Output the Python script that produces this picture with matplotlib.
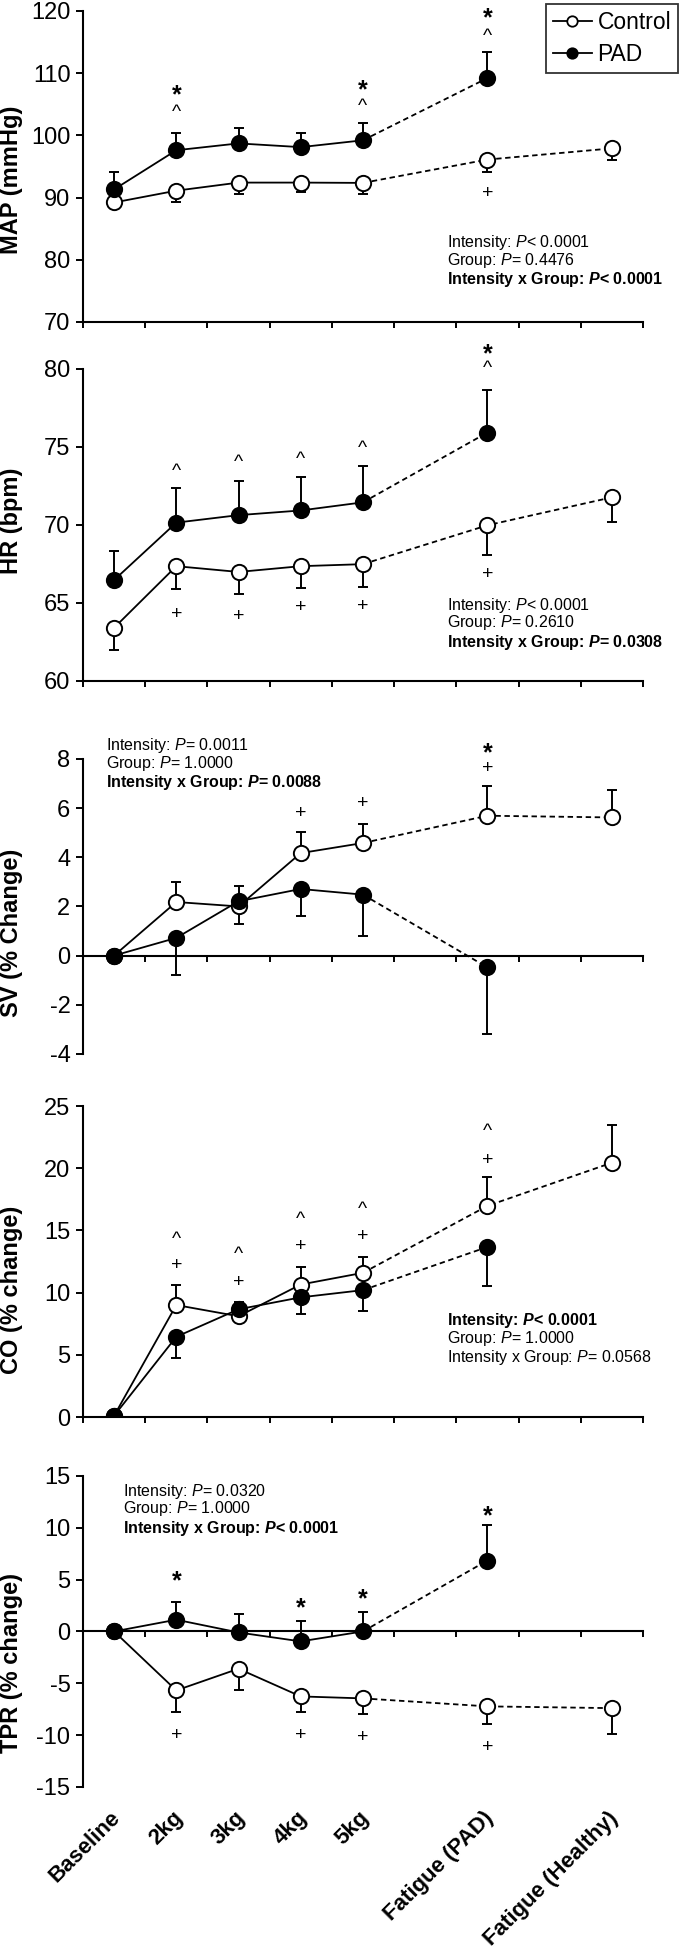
import matplotlib.pyplot as plt
import numpy as np
from matplotlib.lines import Line2D

plt.rcParams['font.family'] = ['Liberation Sans', 'DejaVu Sans']
plt.rcParams['axes.unicode_minus'] = False
plt.rcParams['mathtext.fontset'] = 'custom'
plt.rcParams['mathtext.rm'] = 'Liberation Sans'
plt.rcParams['mathtext.it'] = 'Liberation Sans:italic'
plt.rcParams['mathtext.bf'] = 'Liberation Sans:bold'
plt.rcParams['mathtext.bfit'] = 'Liberation Sans:bold:italic'

categories = ['Baseline', '2kg', '3kg', '4kg', '5kg', 'Fatigue (PAD)', 'Fatigue (Healthy)']
pos = np.array([0, 1, 2, 3, 4, 6, 8])

# MAP (mmHg)
map_ctrl = [89.2, 91.1, 92.4, 92.4, 92.35, 96.1, 97.9]
map_ctrl_lo = [0.0, 1.8, 1.8, 1.5, 1.75, 2.0, 1.9]
map_ctrl_hi = [0, 0, 0, 0, 0, 0, 0]
map_pad = [91.3, 97.6, 98.7, 98.1, 99.2, 109.2, np.nan]
map_pad_lo = [0, 0, 0, 0, 0, 0, 0]
map_pad_hi = [2.8, 2.8, 2.4, 2.3, 2.8, 4.2, 0]
map_marks = [(1, 103.6, '^'), (1, 107.6, '*'), (4, 104.7, '^'), (4, 108.4, '*'),
             (5, 115.9, '^'), (5, 119.9, '*'), (5, 90.7, '+')]
map_stats = ['Intensity: $\\mathit{P}$< 0.0001', 'Group: $\\mathit{P}$= 0.4476',
             'Intensity x Group: $\\mathbfit{P}$< 0.0001']
map_bold = [False, False, True]

# HR (bpm)
hr_ctrl = [63.4, 67.35, 66.98, 67.35, 67.48, 69.97, 71.76]
hr_ctrl_lo = [1.4, 1.45, 1.44, 1.4, 1.45, 1.9, 1.6]
hr_ctrl_hi = [0, 0, 0, 0, 0, 0, 0]
hr_pad = [66.46, 70.14, 70.62, 70.92, 71.44, 75.91, np.nan]
hr_pad_lo = [0, 0, 0, 0, 0, 0, 0]
hr_pad_hi = [1.87, 2.24, 2.17, 2.15, 2.35, 2.73, 0]
hr_marks = [(1, 73.4, '^'), (2, 74.0, '^'), (3, 74.2, '^'), (4, 74.9, '^'),
            (5, 80.0, '^'), (5, 81.4, '*'),
            (1, 64.25, '+'), (2, 64.14, '+'), (3, 64.68, '+'), (4, 64.79, '+'), (5, 66.83, '+')]
hr_stats = ['Intensity: $\\mathit{P}$< 0.0001', 'Group: $\\mathit{P}$= 0.2610',
            'Intensity x Group: $\\mathbfit{P}$= 0.0308']
hr_bold = [False, False, True]

# SV (% Change)
sv_ctrl = [0.0, 2.18, 2.0, 4.17, 4.58, 5.69, 5.62]
sv_ctrl_lo = [0, 0, 0.71, 0, 0, 0, 0]
sv_ctrl_hi = [0, 0.8, 0, 0.87, 0.79, 1.21, 1.1]
sv_pad = [0.0, 0.72, 2.21, 2.71, 2.48, -0.48, np.nan]
sv_pad_lo = [0, 1.49, 0, 1.08, 1.67, 2.72, 0]
sv_pad_hi = [0, 0, 0.61, 0, 0, 0, 0]
sv_marks = [(3, 5.77, '+'), (4, 6.17, '+'), (5, 7.62, '+'), (5, 8.5, '*')]
sv_stats = ['Intensity: $\\mathit{P}$= 0.0011', 'Group: $\\mathit{P}$= 1.0000',
            'Intensity x Group: $\\mathbfit{P}$= 0.0088']
sv_bold = [False, False, True]

# CO (% change)
co_ctrl = [0.1, 9.0, 8.1, 10.65, 11.59, 16.97, 20.44]
co_ctrl_lo = [0, 0, 0.4, 0, 0, 0, 0]
co_ctrl_hi = [0, 1.6, 0, 1.4, 1.28, 2.35, 3.0]
co_pad = [0.1, 6.45, 8.66, 9.62, 10.2, 13.67, np.nan]
co_pad_lo = [0, 1.67, 0, 1.3, 1.65, 3.15, 0]
co_pad_hi = [0, 0, 0.6, 0, 0, 0, 0]
co_marks = [(1, 14.3, '^'), (1, 12.17, '+'), (2, 13.05, '^'), (2, 10.84, '+'),
            (3, 15.9, '^'), (3, 13.72, '+'), (4, 16.7, '^'), (4, 14.52, '+'),
            (5, 22.92, '^'), (5, 20.65, '+')]
co_stats = ['Intensity: $\\mathbfit{P}$< 0.0001', 'Group: $\\mathit{P}$= 1.0000',
            'Intensity x Group: $\\mathit{P}$= 0.0568']
co_bold = [True, False, False]

# TPR (% change)
tpr_ctrl = [0.0, -5.69, -3.6, -6.27, -6.46, -7.23, -7.4]
tpr_ctrl_lo = [0, 2.12, 2.03, 1.51, 1.51, 1.71, 2.47]
tpr_ctrl_hi = [0, 0, 0, 0, 0, 0, 0]
tpr_pad = [0.0, 1.13, -0.1, -0.96, 0.0, 6.84, np.nan]
tpr_pad_lo = [0, 0, 0, 0, 0, 0, 0]
tpr_pad_hi = [0, 1.7, 1.8, 1.92, 1.9, 3.44, 0]
tpr_marks = [(1, 5.55, '*'), (3, 2.88, '*'), (4, 3.72, '*'), (5, 11.8, '*'),
             (1, -10.06, '+'), (3, -10.06, '+'), (4, -10.19, '+'), (5, -11.16, '+')]
tpr_stats = ['Intensity: $\\mathit{P}$= 0.0320', 'Group: $\\mathit{P}$= 1.0000',
             'Intensity x Group: $\\mathbfit{P}$< 0.0001']
tpr_bold = [False, False, True]

panels = [
    dict(rect=[0.122, 0.8350, 0.8235, 0.1594], ylim=(70, 120), yt=np.arange(70, 121, 10),
         label='MAP (mmHg)', lab_y=0.457, zero=False,
         ctrl=(map_ctrl, map_ctrl_lo, map_ctrl_hi), pad=(map_pad, map_pad_lo, map_pad_hi),
         marks=map_marks, stats=map_stats, bold=map_bold, sx=0.65, sy=[0.254, 0.196, 0.135]),
    dict(rect=[0.122, 0.6510, 0.8235, 0.1600], ylim=(60, 80), yt=np.arange(60, 81, 5),
         label='HR (bpm)', lab_y=0.513, zero=False,
         ctrl=(hr_ctrl, hr_ctrl_lo, hr_ctrl_hi), pad=(hr_pad, hr_pad_lo, hr_pad_hi),
         marks=hr_marks, stats=hr_stats, bold=hr_bold, sx=0.65, sy=[0.240, 0.186, 0.122]),
    dict(rect=[0.122, 0.4598, 0.8235, 0.1512], ylim=(-4, 8), yt=np.arange(-4, 9, 2),
         label='SV (% Change)', lab_y=0.41, zero=True,
         ctrl=(sv_ctrl, sv_ctrl_lo, sv_ctrl_hi), pad=(sv_pad, sv_pad_lo, sv_pad_hi),
         marks=sv_marks, stats=sv_stats, bold=sv_bold, sx=0.041, sy=[1.044, 0.986, 0.919]),
    dict(rect=[0.122, 0.2737, 0.8235, 0.1594], ylim=(0, 25), yt=np.arange(0, 26, 5),
         label='CO (% change)', lab_y=0.408, zero=False,
         ctrl=(co_ctrl, co_ctrl_lo, co_ctrl_hi), pad=(co_pad, co_pad_lo, co_pad_hi),
         marks=co_marks, stats=co_stats, bold=co_bold, sx=0.65, sy=[0.309, 0.254, 0.190]),
    dict(rect=[0.122, 0.0841, 0.8235, 0.1594], ylim=(-15, 15), yt=np.arange(-15, 16, 5),
         label='TPR (% change)', lab_y=0.40, zero=True,
         ctrl=(tpr_ctrl, tpr_ctrl_lo, tpr_ctrl_hi), pad=(tpr_pad, tpr_pad_lo, tpr_pad_hi),
         marks=tpr_marks, stats=tpr_stats, bold=tpr_bold, sx=0.072, sy=[0.949, 0.894, 0.830]),
]

fig = plt.figure(figsize=(6.8, 19.51), dpi=100)


def draw_series(ax, data, face, z):
    y, lo, hi = data
    y = np.array(y, dtype=float)
    ax.plot(pos[:5], y[:5], '-', color='black', lw=1.3, zorder=1)
    ax.plot(pos[4:], y[4:], '--', color='black', lw=1.3, dashes=(3, 2), zorder=1)
    ok = ~np.isnan(y)
    ax.errorbar(pos[ok], y[ok], yerr=[np.array(lo)[ok], np.array(hi)[ok]], fmt='none',
                ecolor='black', elinewidth=1.4, capsize=3.5, capthick=1.4, zorder=2)
    ax.plot(pos, y, 'o', ms=11, mfc=face, mec='black', mew=1.4, ls='none', zorder=z)


for i, p in enumerate(panels):
    ax = fig.add_axes(p['rect'])
    draw_series(ax, p['ctrl'], 'white', 3)
    draw_series(ax, p['pad'], 'black', 4)

    ax.set_xlim(-0.5, 8.5)
    ax.set_ylim(*p['ylim'])
    ax.set_yticks(p['yt'])
    ax.set_xticks(np.arange(-0.5, 9, 1))
    ax.tick_params(axis='x', direction='out', length=4.5, width=1.4, labelbottom=False)
    ax.tick_params(axis='y', direction='out', length=5, width=1.4, labelsize=17, pad=4)
    ax.spines['top'].set_visible(False)
    ax.spines['right'].set_visible(False)
    for s in ['left', 'bottom']:
        ax.spines[s].set_linewidth(1.5)
    if p['zero']:
        ax.spines['bottom'].set_position(('data', 0))

    ax.set_ylabel(p['label'], fontsize=17, fontweight='bold', va='center')
    ax.yaxis.set_label_coords(-0.127, p['lab_y'])

    for idx, yv, sym in p['marks']:
        if sym == '*':
            ax.annotate(sym, (pos[idx], yv), xytext=(0, -5), textcoords='offset points',
                        ha='center', va='center', fontsize=18, fontweight='bold', zorder=5,
                        annotation_clip=False)
        else:
            ax.text(pos[idx], yv, sym, ha='center', va='center', fontsize=14, zorder=5)

    for txt, b, sy in zip(p['stats'], p['bold'], p['sy']):
        ax.text(p['sx'], sy, txt, transform=ax.transAxes, ha='left', va='center',
                fontsize=11.5, fontweight='bold' if b else 'normal')

    if i == len(panels) - 1:
        for x, lab in zip(pos, categories):
            ax.text(x + 0.05, -0.09, lab, transform=ax.get_xaxis_transform(),
                    rotation=45, rotation_mode='anchor', ha='right', va='center',
                    fontsize=16, fontweight='bold')

handles = [Line2D([], [], color='black', lw=1.3, marker='o', ms=7.5, mfc='white', mec='black', mew=1.3),
           Line2D([], [], color='black', lw=1.3, marker='o', ms=7.5, mfc='black', mec='black', mew=1.3)]
leg = fig.legend(handles, ['Control', 'PAD'], loc='upper right', bbox_to_anchor=(0.997, 0.998),
                 fontsize=16.5, frameon=True, fancybox=False, edgecolor='black',
                 handlelength=1.7, handletextpad=0.25, labelspacing=0.4, borderpad=0.3,
                 borderaxespad=0)
leg.get_frame().set_linewidth(1.3)

fig.savefig('out.png', dpi=100)
